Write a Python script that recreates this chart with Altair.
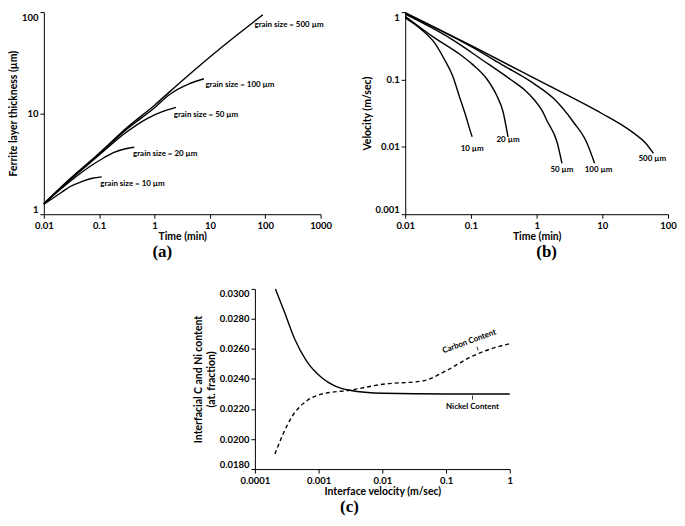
import altair as alt
import pandas as pd

FONT = "Lato"
SERIF = "Liberation Serif"

# ---------------- Panel (a): ferrite layer thickness vs time ----------------
a_t_500 = [0.01, 0.03, 0.1, 0.3, 1, 3, 10, 30, 60, 90]
a_y_500 = [1.27, 2.25, 4.0, 7.0, 12.0, 20.5, 36, 58.7, 79, 94]
a_t_100 = [0.01, 0.03, 0.1, 0.3, 1, 1.87, 4.2, 7.8]
a_y_100 = [1.27, 2.22, 3.95, 6.8, 11.3, 15.3, 19.5, 21.9]
a_t_50 = [0.01, 0.03, 0.1, 0.3, 0.72, 1.42, 2.45]
a_y_50 = [1.27, 2.2, 3.85, 6.4, 8.8, 10.4, 11.4]
a_t_20 = [0.01, 0.03, 0.07, 0.12, 0.185, 0.3, 0.43]
a_y_20 = [1.27, 2.12, 3.0, 3.6, 4.1, 4.45, 4.6]
a_t_10 = [0.01, 0.021, 0.03, 0.048, 0.075, 0.111]
a_y_10 = [1.25, 1.65, 1.88, 2.1, 2.27, 2.34]

a_lab_text = ["grain size = 500 \u00b5m", "grain size = 100 \u00b5m", "grain size = 50 \u00b5m",
              "grain size = 20 \u00b5m", "grain size = 10 \u00b5m"]
a_lab_t = [63.8, 8.3, 2.22, 0.408, 0.1045]
a_lab_y = [73.8, 18.9, 9.65, 3.97, 1.99]

a_xticks = [0.01, 0.1, 1, 10, 100, 1000]
a_yticks = [1, 10, 100]

# ---------------- Panel (b): velocity vs time ----------------
b_t_500 = [0.01, 0.1, 1, 10, 20, 30, 45, 60]
b_v_500 = [0.98, 0.32, 0.1, 0.031, 0.021, 0.016, 0.0115, 0.008]
b_t_100 = [0.01, 0.1, 0.3, 0.92, 1.82, 3.62, 5.72, 7.62]
b_v_100 = [0.96, 0.31, 0.165, 0.086, 0.052, 0.0234, 0.0119, 0.0057]
b_t_50 = [0.01, 0.05, 0.155, 0.4, 0.69, 0.92, 1.2, 1.45, 2.04, 2.43]
b_v_50 = [0.93, 0.4, 0.19, 0.1, 0.067, 0.05, 0.035, 0.024, 0.0119, 0.0057]
b_t_20 = [0.01, 0.028, 0.0625, 0.1045, 0.175, 0.247, 0.309, 0.355, 0.367]
b_v_20 = [0.87, 0.415, 0.25, 0.169, 0.1016, 0.0578, 0.0329, 0.0167, 0.0141]
b_t_10 = [0.01, 0.0177, 0.028, 0.0394, 0.0526, 0.066, 0.083, 0.0987, 0.1045]
b_v_10 = [0.82, 0.55, 0.35, 0.2, 0.114, 0.058, 0.0294, 0.0167, 0.0141]

b_lab_text = ["10 \u00b5m", "20 \u00b5m", "50 \u00b5m", "100 \u00b5m", "500 \u00b5m"]
b_lab_t = [0.1045, 0.367, 2.43, 8.75, 57.7]
b_lab_v = [0.0093, 0.0126, 0.00458, 0.00458, 0.00664]

b_xticks = [0.01, 0.1, 1, 10, 100]
b_yticks = [0.001, 0.01, 0.1, 1]

# ---------------- Panel (c): interfacial content vs interface velocity ----------------
c_x_ni = [0.00021, 0.000294, 0.000423, 0.000644, 0.00111, 0.00179, 0.00307, 0.0102, 0.1, 1]
c_y_ni = [0.0300, 0.02841, 0.02664, 0.0252, 0.0241, 0.02354, 0.02325, 0.02305, 0.0230, 0.0230]
c_x_c = [0.000206, 0.000277, 0.000375, 0.000605, 0.00111, 0.00307, 0.0102, 0.043, 0.1, 0.232, 0.476, 1]
c_y_c = [0.0190, 0.02033, 0.02144, 0.02244, 0.02299, 0.02325, 0.02365, 0.02387, 0.02454, 0.02542,
         0.02597, 0.02635]

c_carbon_label = ["Carbon Content"]
c_carbon_x = [0.232]
c_carbon_y = [0.02648]
c_nickel_label = ["Nickel Content"]
c_nickel_x = [0.26]
c_nickel_y = [0.02212]

c_arrow_x = [0.305, 0.32, 0.26, 0.26]
c_arrow_y = [0.02615, 0.0259, 0.02262, 0.0229]
c_arrow_id = ["carbon", "carbon", "nickel", "nickel"]

c_xticks = [0.0001, 0.001, 0.01, 0.1, 1]
c_yticks = [0.018, 0.020, 0.022, 0.024, 0.026, 0.028, 0.030]


def series_df(series):
    rows = []
    for name, xs, ys in series:
        for x, y in zip(xs, ys):
            rows.append({"s": name, "x": x, "y": y})
    return pd.DataFrame(rows)


def caption(txt, dx):
    return alt.TitleParams(txt, orient="bottom", font=SERIF, fontSize=17, fontWeight="bold",
                           frame="group", anchor="middle", dx=dx, offset=2, color="black")


def xaxis(values, title, fmt="~g"):
    return alt.Axis(values=values, format=fmt, title=title, labelFlush=False)


def yaxis(values, title, fmt="~g"):
    return alt.Axis(values=values, format=fmt, title=title, labelFlush=True)


# ---- (a)
df_a = series_df([("500", a_t_500, a_y_500), ("100", a_t_100, a_y_100), ("50", a_t_50, a_y_50),
                  ("20", a_t_20, a_y_20), ("10", a_t_10, a_y_10)])
xa = alt.X("x:Q", scale=alt.Scale(type="log", domain=[0.01, 1000], nice=False),
           axis=xaxis(a_xticks, "Time (min)"))
ya = alt.Y("y:Q", scale=alt.Scale(type="log", domain=[1, 100], nice=False),
           axis=yaxis(a_yticks, "Ferrite layer thickness (\u00b5m)"))
a_lines = alt.Chart(df_a).mark_line(color="black", strokeWidth=1.4, interpolate="monotone").encode(
    x=xa, y=ya, detail="s:N")
df_al = pd.DataFrame({"x": a_lab_t, "y": a_lab_y, "t": a_lab_text})
a_text = alt.Chart(df_al).mark_text(align="left", baseline="middle", font=FONT, fontSize=8,
                                    fontWeight="bold", color="black").encode(x=xa, y=ya, text="t:N")
panel_a = alt.layer(a_lines, a_text).properties(width=278, height=203, title=caption("(a)", -20))

# ---- (b)
df_b = series_df([("500", b_t_500, b_v_500), ("100", b_t_100, b_v_100), ("50", b_t_50, b_v_50),
                  ("20", b_t_20, b_v_20), ("10", b_t_10, b_v_10)])
xb = alt.X("x:Q", scale=alt.Scale(type="log", domain=[0.01, 100], nice=False),
           axis=xaxis(b_xticks, "Time (min)"))
yb = alt.Y("y:Q", scale=alt.Scale(type="log", domain=[0.001, 1], nice=False),
           axis=yaxis(b_yticks, "Velocity (m/sec)"))
b_lines = alt.Chart(df_b).mark_line(color="black", strokeWidth=1.4, interpolate="monotone").encode(
    x=xb, y=yb, detail="s:N")
df_bl = pd.DataFrame({"x": b_lab_t, "y": b_lab_v, "t": b_lab_text})
b_text = alt.Chart(df_bl).mark_text(align="center", baseline="middle", font=FONT, fontSize=8,
                                    fontWeight="bold", color="black").encode(x=xb, y=yb, text="t:N")
panel_b = alt.layer(b_lines, b_text).properties(width=264, height=203, title=caption("(b)", 10))

# ---- (c)
xc = alt.X("x:Q", scale=alt.Scale(type="log", domain=[0.0001, 1], nice=False),
           axis=xaxis(c_xticks, "Interface velocity (m/sec)"))
yc = alt.Y("y:Q", scale=alt.Scale(domain=[0.018, 0.030], nice=False, zero=False),
           axis=yaxis(c_yticks, ["Interfacial C and Ni content", "(at. fraction)"], ".4f"))
df_ni = pd.DataFrame({"x": c_x_ni, "y": c_y_ni})
df_c = pd.DataFrame({"x": c_x_c, "y": c_y_c})
c_ni = alt.Chart(df_ni).mark_line(color="black", strokeWidth=1.4, interpolate="monotone").encode(x=xc, y=yc)
c_c = alt.Chart(df_c).mark_line(color="black", strokeWidth=1.4, strokeDash=[4, 3],
                                interpolate="monotone").encode(x=xc, y=yc)
df_cc = pd.DataFrame({"x": c_carbon_x, "y": c_carbon_y, "t": c_carbon_label})
c_text1 = alt.Chart(df_cc).mark_text(align="center", baseline="middle", font=FONT, fontSize=8,
                                     fontWeight="bold", color="black",
                                     angle=alt.expr("-20")).encode(x=xc, y=yc, text="t:N")
df_cn = pd.DataFrame({"x": c_nickel_x, "y": c_nickel_y, "t": c_nickel_label})
c_text2 = alt.Chart(df_cn).mark_text(align="center", baseline="middle", font=FONT, fontSize=8,
                                     fontWeight="bold", color="black").encode(x=xc, y=yc, text="t:N")
df_ca = pd.DataFrame({"x": c_arrow_x, "y": c_arrow_y, "id": c_arrow_id})
c_arrows = alt.Chart(df_ca).mark_line(color="black", strokeWidth=0.8).encode(x=xc, y=yc, detail="id:N")
panel_c = alt.layer(c_ni, c_c, c_arrows, c_text1, c_text2).properties(
    width=256, height=181, title=caption("(c)", -33))

spacer = alt.Chart(pd.DataFrame({"v": [0]})).mark_rule(opacity=0).encode(
    x=alt.value(0), x2=alt.value(1), y=alt.value(0)).properties(width=212, height=10)

top = alt.hconcat(panel_a, panel_b, spacing=29)
bottom = alt.hconcat(spacer, panel_c, spacing=0, bounds="flush")

chart = alt.vconcat(top, bottom, spacing=26).properties(padding=0).configure_view(
    stroke=None
).configure_axis(
    grid=False, domainColor="black", tickColor="black", labelColor="black", titleColor="black",
    labelFont=FONT, titleFont=FONT, labelFontWeight="bold", titleFontWeight="bold",
    labelFontSize=9.5, titleFontSize=10.5, tickSize=4, domainWidth=1, tickWidth=1,
    labelPadding=2
).configure_axisX(titlePadding=2).configure_axisY(titlePadding=3)

chart.save("out.html", embed_options={"renderer": "svg", "actions": False})
